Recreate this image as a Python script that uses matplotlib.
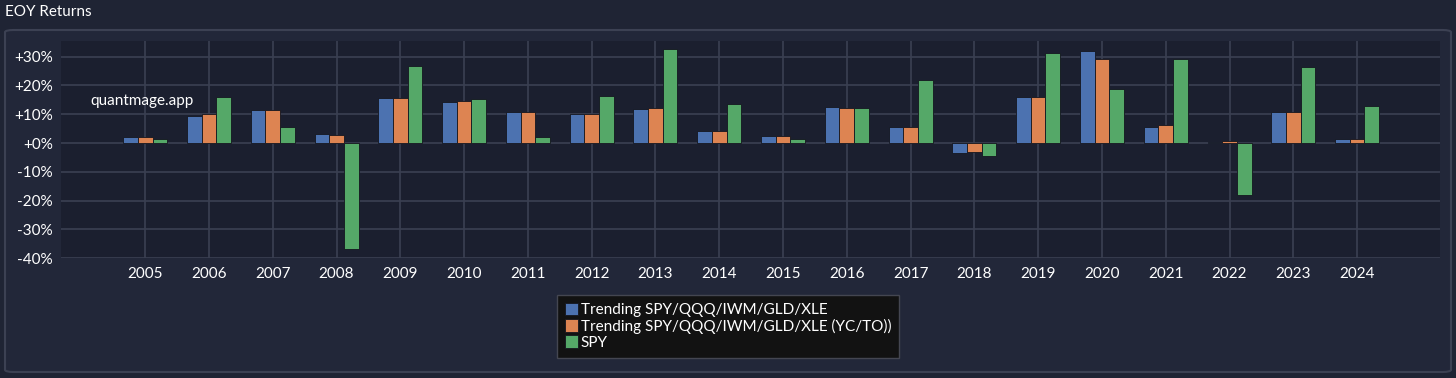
import numpy as np
import matplotlib
matplotlib.use("Agg")
from matplotlib import pyplot as plt
from matplotlib.patches import FancyBboxPatch

plt.rcParams['font.family'] = ['Lato', 'DejaVu Sans']

years = list(range(2005, 2025))
trending = [2.2, 9.5, 11.5, 3.1, 15.6, 14.1, 10.7, 10.0, 11.8, 4.2,
            2.4, 12.4, 5.6, -3.3, 16.0, 31.8, 5.6, 0.5, 10.8, 1.3]
trending_yc = [2.2, 10.0, 11.6, 2.9, 15.6, 14.5, 10.9, 9.9, 12.3, 4.2,
               2.4, 12.2, 5.6, -3.1, 15.8, 29.3, 6.1, 0.6, 10.6, 1.3]
spy = [1.4, 16.1, 5.4, -36.6, 26.6, 15.2, 2.1, 16.3, 32.6, 13.6,
       1.5, 12.2, 21.8, -4.5, 31.4, 18.7, 29.0, -18.0, 26.3, 12.8]
series_names = ['Trending SPY/QQQ/IWM/GLD/XLE',
                'Trending SPY/QQQ/IWM/GLD/XLE (YC/TO))',
                'SPY']
yticks = [-40, -30, -20, -10, 0, 10, 20, 30]

colors = ['#4c72b0', '#dd8452', '#55a868']
fig_bg = '#1f2434'
panel_bg = '#222739'
ax_bg = '#1b1f2f'
grid_c = '#3b4052'

fig = plt.figure(figsize=(14.56, 3.78), dpi=100)
fig.patch.set_facecolor(fig_bg)

# rounded panel behind the chart
panel = FancyBboxPatch((5 / 1456, 6 / 378), 1446 / 1456, 342 / 378,
                       boxstyle="round,pad=0,rounding_size=0.006",
                       transform=fig.transFigure, facecolor=panel_bg,
                       edgecolor='#3c4153', linewidth=1.5, zorder=-10)
fig.patches.append(panel)

fig.text(5 / 1456, 1 - 12 / 378, 'EOY Returns', color='white', fontsize=11,
         ha='left', va='center')

ax = fig.add_axes([61 / 1456, 1 - 258.3 / 378, 1379 / 1456, 217.6 / 378])
ax.set_facecolor(ax_bg)

x = np.array(years)
w = 0.23
for k, (vals, name) in enumerate(zip([trending, trending_yc, spy], series_names)):
    ax.bar(x + (k - 1) * w, vals, width=w, color=colors[k], label=name,
           edgecolor='#14161f', linewidth=0.6, zorder=3)

ax.set_xlim(2003.68, 2025.3)
ax.set_ylim(-40, 35.5)
ax.set_xticks(years)
ax.set_xticklabels([str(y) for y in years])
ax.set_yticks(yticks)
ax.set_yticklabels([('+%d%%' % v) if v >= 0 else ('%d%%' % v) for v in yticks])
ax.grid(True, color=grid_c, linewidth=1.2, zorder=0)
ax.tick_params(colors='white', labelsize=11, length=0, pad=6)
for s in ax.spines.values():
    s.set_visible(False)

ax.text(0.021, 0.725, 'quantmage.app', transform=ax.transAxes, color='white',
        fontsize=11, ha='left', va='center')

leg = fig.legend(loc='upper center', bbox_to_anchor=(0.5, 1 - 295 / 378),
                 bbox_transform=fig.transFigure, fontsize=11, frameon=True,
                 fancybox=False, handlelength=0.9, handleheight=0.9,
                 handletextpad=0.15, labelspacing=0.1, borderpad=0.5,
                 borderaxespad=0)
leg.get_frame().set_facecolor('#121212')
leg.get_frame().set_edgecolor('#444651')
leg.get_frame().set_alpha(1)
for t in leg.get_texts():
    t.set_color('white')

fig.savefig('out.png', dpi=100, facecolor=fig_bg)
